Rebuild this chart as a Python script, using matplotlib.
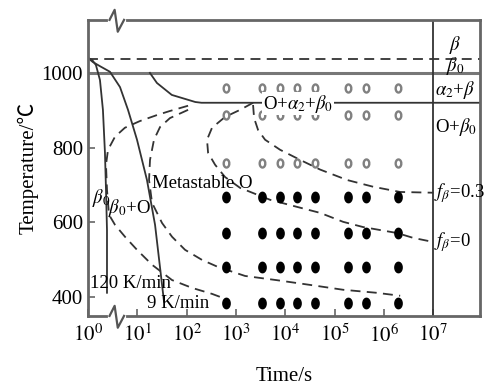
import numpy as np
import matplotlib
matplotlib.use("Agg")
import matplotlib.pyplot as plt

plt.rcParams['font.family'] = ['Liberation Serif', 'Noto Sans CJK SC']
plt.rcParams['mathtext.fontset'] = 'stix'

# 冷却曲线 (时间 s, 温度 ℃)
cool_120_t = [1, 1.21, 1.45, 1.75, 2.01, 2.21, 2.32, 2.43, 2.43]
cool_120_T = [1040, 1035, 1021, 981, 901, 786, 687, 579, 411]
cool_9_t = [1, 1.26, 1.75, 2.79, 4.46, 6.48, 9.86, 15.7, 22.9, 34.8]
cool_9_T = [1040, 1029, 1018, 1003, 962, 901, 821, 713, 593, 387]

# alpha2 析出线 + 920 水平线
a2_t = [18, 25, 50, 150, 200, 9e7]
a2_T = [1000, 973, 941, 922, 920, 920]

# C 曲线 (虚线)
c1_t = [107, 46, 25, 11.3, 5.6, 3.53, 2.55, 2.32, 2.43, 2.67, 3.53, 5.63, 9.86, 19.9, 50.6, 129, 327, 691]
c1_T = [912, 898, 887, 871, 853, 829, 794, 754, 687, 620, 593, 561, 526, 486, 445, 424, 408, 392]
c2_t = [107, 46, 28.9, 21.8, 18.1, 17.3, 19.9, 31.7, 50.6, 92.9, 205, 434, 1530, 6500, 31800, 148600, 695000, 2.13e6]
c2_T = [901, 879, 855, 821, 767, 713, 652, 598, 561, 526, 499, 480, 456, 445, 432, 419, 411, 403]
f0_t = [2222, 1211, 601, 327, 259, 272, 377, 601, 1211, 4920, 17350, 50800, 148600, 378000, 837000, 1.85e6, 3.91e6, 1e7]
f0_T = [920, 901, 882, 853, 821, 786, 754, 721, 692, 660, 641, 625, 601, 587, 579, 571, 558, 547]
f03_t = [2222, 2330, 2807, 3890, 7850, 19950, 50800, 179600, 604000, 2.13e6, 1e7]
f03_T = [914, 879, 847, 821, 794, 767, 741, 713, 695, 681, 679]

# 实验点
exp_t = [630, 3400, 7800, 17400, 40000, 186000, 436000, 1.95e6]
open_T = [960, 887, 759]
filled_T = [668, 571, 480, 384]

beta_transus = 1038
t_max = 10 ** 7.95

fig = plt.figure(figsize=(4.86, 3.90), dpi=100)
ax = fig.add_axes([0.181, 0.190, 0.807, 0.759])
ax.set_xscale('log')
ax.set_xlim(1, t_max)
ax.set_ylim(349, 1142)

lc = '#333333'
dash = (0, (5.5, 3.5))
ax.axhline(beta_transus, color=lc, lw=1.3, ls=dash)
ax.axhline(1000, color='#777777', lw=2.2)
ax.axvline(1e7, color=lc, lw=1.3)

ax.plot(cool_120_t, cool_120_T, color=lc, lw=1.3)
ax.plot(cool_9_t, cool_9_T, color=lc, lw=1.3)
ax.plot(a2_t, a2_T, color=lc, lw=1.3)
for tt, TT in [(c1_t, c1_T), (c2_t, c2_T), (f0_t, f0_T), (f03_t, f03_T)]:
    ax.plot(tt, TT, color=lc, lw=1.3, ls=dash)

th = np.linspace(0, 2 * np.pi, 40)
ell = list(zip(0.7 * np.cos(th), np.sin(th)))
for T in open_T:
    ax.plot(exp_t, [T] * len(exp_t), ls='none', marker=ell, ms=5.8, mfc='white',
            mec='#808080', mew=1.7)
for T in filled_T:
    ax.plot(exp_t, [T] * len(exp_t), ls='none', marker=ell, ms=7.5, mfc='black',
            mec='black')

fs = 13.5
ax.text(10 ** 4.26, 918, r'O+$\alpha_2$+$\beta_0$', fontsize=fs, ha='center', va='center',
        bbox=dict(facecolor='white', edgecolor='none', pad=0.5))
ax.text(20, 705, 'Metastable O', fontsize=fs, ha='left', va='center')
ax.text(1.2, 665, r'$\beta_0$', fontsize=fs, ha='left', va='center')
ax.text(2.55, 638, r'$\beta_0$+O', fontsize=fs, ha='left', va='center')
ax.text(1.1, 437, '120 K/min', fontsize=fs, ha='left', va='center')
ax.text(15.7, 381, '9 K/min', fontsize=fs, ha='left', va='center')
ax.text(1.05e7, 679, r'$f_\beta$=0.3', fontsize=fs, ha='left', va='center')
ax.text(1.05e7, 547, r'$f_\beta$=0', fontsize=fs, ha='left', va='center')
xr = 10 ** 7.45
ax.text(xr, 1075, r'$\beta$', fontsize=fs, ha='center', va='center')
ax.text(xr, 1018, r'$\beta_0$', fontsize=fs, ha='center', va='center')
ax.text(xr, 953, r'$\alpha_2$+$\beta$', fontsize=fs, ha='center', va='center')
ax.text(xr, 855, r'O+$\beta_0$', fontsize=fs, ha='center', va='center')

ax.set_xticks([10 ** i for i in range(8)])
ax.set_xticklabels([r'$10^{%d}$' % i for i in range(8)])
ax.minorticks_off()
ax.set_yticks([400, 600, 800, 1000])
ax.tick_params(direction='in', length=5, width=1.2, color='#666666', labelsize=15)
ax.tick_params(axis='x', pad=6)
for s in ax.spines.values():
    s.set_color('#666666')
    s.set_linewidth(2)

ax.set_xlabel('Time/s', fontsize=15, labelpad=15)
ax.set_ylabel('Temperature/℃', fontsize=15, labelpad=2)

# 断轴符号
tr = ax.transAxes
for y0 in [1.0, 0.0]:
    ax.plot([0.055, 0.092], [y0, y0], color='white', lw=3, transform=tr, clip_on=False, zorder=5)
    ax.plot([0.055, 0.068, 0.076, 0.092], [y0, y0 + 0.034, y0 - 0.04, y0],
            color='#555555', lw=1.6, transform=tr, clip_on=False, zorder=6)

fig.savefig('out.png', dpi=100)
